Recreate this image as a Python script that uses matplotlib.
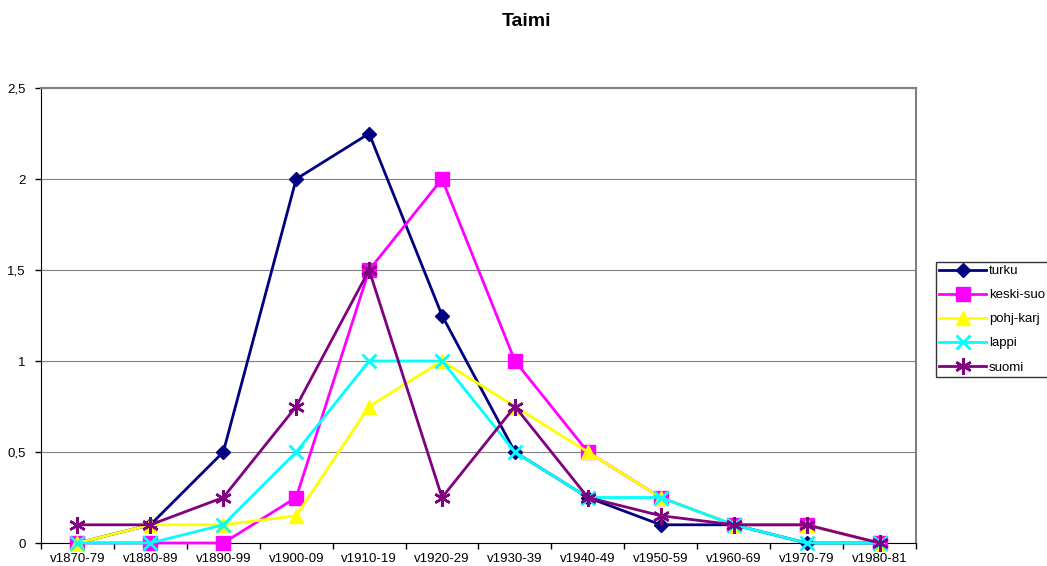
import matplotlib.pyplot as plt
from matplotlib.ticker import FuncFormatter

categories = ['v1870-79', 'v1880-89', 'v1890-99', 'v1900-09', 'v1910-19', 'v1920-29',
              'v1930-39', 'v1940-49', 'v1950-59', 'v1960-69', 'v1970-79', 'v1980-81']
turku = [0, 0.1, 0.5, 2.0, 2.25, 1.25, 0.5, 0.25, 0.1, 0.1, 0, 0]
keski_suo = [0, 0, 0, 0.25, 1.5, 2.0, 1.0, 0.5, 0.25, 0.1, 0.1, 0]
pohj_karj = [0, 0.1, 0.1, 0.15, 0.75, 1.0, 0.75, 0.5, 0.25, 0.1, 0.1, 0]
lappi = [0, 0, 0.1, 0.5, 1.0, 1.0, 0.5, 0.25, 0.25, 0.1, 0, 0]
suomi = [0.1, 0.1, 0.25, 0.75, 1.5, 0.25, 0.75, 0.25, 0.15, 0.1, 0.1, 0]

plt.rcParams['font.family'] = ['Liberation Sans', 'DejaVu Sans']

fig = plt.figure(figsize=(10.47, 5.66), dpi=100)
ax = fig.add_axes([41 / 1047, 1 - 543 / 566, (916 - 41) / 1047, (543 - 88) / 566])

x = list(range(len(categories)))
lw = 2.0
ax.plot(x, turku, color='#000080', marker='D', markersize=7.5, lw=lw, label='turku', clip_on=False, zorder=3)
ax.plot(x, keski_suo, color='#FF00FF', marker='s', markersize=9.5, lw=lw, label='keski-suo', clip_on=False, zorder=4)
ax.plot(x, pohj_karj, color='#FFFF00', marker='^', markersize=9.5, lw=lw, label='pohj-karj', clip_on=False, zorder=5)
ax.plot(x, lappi, color='#00FFFF', marker='x', markersize=10, mew=2, lw=lw, label='lappi', clip_on=False, zorder=6)
ax.plot(x, suomi, color='#800080', marker=(6, 2, 0), markersize=12, mew=1.8, lw=lw, label='suomi', clip_on=False, zorder=7)

ax.set_xlim(-0.5, len(categories) - 0.5)
ax.set_ylim(0, 2.5)
ax.set_yticks([0, 0.5, 1, 1.5, 2, 2.5])
ax.yaxis.set_major_formatter(FuncFormatter(lambda v, p: ('%g' % v).replace('.', ',')))
ax.yaxis.grid(True, color='#808080', lw=0.8)
ax.set_axisbelow(True)

ax.set_xticks([i - 0.5 for i in range(len(categories) + 1)])
ax.set_xticklabels([])
ax.set_xticks(x, minor=True)
ax.set_xticklabels(categories, minor=True, fontsize=9.5)
ax.tick_params(axis='x', which='minor', length=0, pad=7)
ax.tick_params(axis='x', which='major', length=4, direction='out', width=1)
ax.tick_params(axis='y', length=4, direction='out', labelsize=9.5, width=1, pad=7)

ax.spines['left'].set_color('black')
ax.spines['bottom'].set_color('black')
ax.spines['top'].set_color('#808080')
ax.spines['right'].set_color('#808080')
ax.spines['top'].set_linewidth(1.5)
ax.spines['right'].set_linewidth(1.5)

fig.text(526 / 1047, 1 - 22 / 566, 'Taimi', ha='center', va='center', fontsize=14, fontweight='bold')

leg = fig.legend(loc='upper left', bbox_to_anchor=(929 / 1047, 1 - 255 / 566), fontsize=9.5,
                 frameon=True, fancybox=False, edgecolor='black', borderpad=0.25,
                 handlelength=3.6, labelspacing=0.9, handletextpad=0.2)
leg.get_frame().set_linewidth(1.0)

plt.savefig('out.png', dpi=100)
